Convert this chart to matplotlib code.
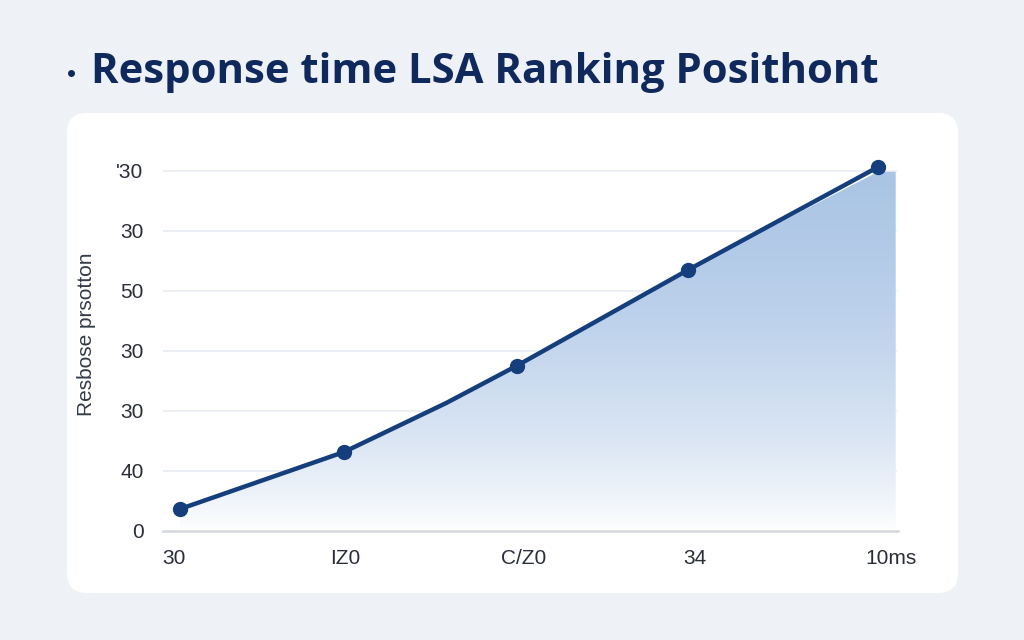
import numpy as np
import matplotlib
matplotlib.use("Agg")
from matplotlib import pyplot as plt
from matplotlib.patches import FancyBboxPatch, Polygon
from matplotlib.colors import LinearSegmentedColormap

# data
x_vals = [0.0, 0.965, 1.565, 1.98, 2.99, 4.105]
y_vals = [0.366, 1.316, 2.13, 2.75, 4.35, 6.06]
marker_idx = [0, 1, 3, 4, 5]          # the kink at index 2 has no marker
fill_right = 4.21
fill_top = 5.98

x_ticks = [-0.035, 0.97, 2.02, 3.03, 4.18]
x_labels = ["30", "IZ0", "C/Z0", "34", "10ms"]
y_ticks = [0, 1, 2, 3, 4, 5, 6]
y_labels = ["0", "40", "30", "30", "50", "30", "'30"]

title = "Response time LSA Ranking Posithont"
ylabel = "Resbose prsotton"

navy = "#153e7c"
bg_col = "#eef2f6"
text_col = "#2a2e38"

plt.rcParams['font.family'] = ['Liberation Sans', 'DejaVu Sans']

fig = plt.figure(figsize=(10.24, 6.4), dpi=100)
fig.patch.set_facecolor(bg_col)

# background layer in pixel coords for the card
bg = fig.add_axes([0, 0, 1, 1], zorder=0)
bg.set_xlim(0, 1024)
bg.set_ylim(640, 0)
bg.axis('off')
r = 20
card = FancyBboxPatch((67 + r, 113 + r), 958 - 67 - 2 * r, 593 - 113 - 2 * r,
                      boxstyle=f"round,pad={r}", fc="white", ec="none")
bg.add_patch(card)

# title: small bullet then bold text
bg.plot([71], [73], 'o', color="#10295c", ms=4)
bg.text(91, 83, title, fontsize=30.2, fontweight='bold', color="#10295c",
        family=['Open Sans', 'DejaVu Sans'], va='baseline', ha='left')

# main axes
L, R, B, T = 163, 898, 531, 158
ax = fig.add_axes([L / 1024, (640 - B) / 640, (R - L) / 1024, (B - T) / 640], zorder=1)
ax.patch.set_alpha(0)
px_per_x = 170.0
ax.set_xlim((L - 180) / px_per_x, (R - 180) / px_per_x)
ax.set_ylim(0, (B - T) / 60.05)

for s in ax.spines.values():
    s.set_visible(False)

for yv in y_ticks[1:]:
    ax.plot([ax.get_xlim()[0], fill_right], [yv, yv], color="#e8ebf0", lw=1.2, zorder=1)
ax.axhline(0, color="#d3d6dc", lw=1.8, zorder=6, clip_on=False)

# gradient fill under the line
poly_x = list(x_vals[:-1]) + [x_vals[-1], fill_right, fill_right, x_vals[0]]
poly_y = list(y_vals[:-1]) + [fill_top, fill_top, 0, 0]
poly = Polygon(np.column_stack([poly_x, poly_y]), closed=True, fc='none', ec='none')
ax.add_patch(poly)
cmap = LinearSegmentedColormap.from_list("fade", ["#ffffff", "#dbe6f4", "#bcd1eb", "#a9c4e4"])
grad = np.linspace(0, 1, 256).reshape(-1, 1) ** 0.8
im = ax.imshow(grad, cmap=cmap, aspect='auto', origin='lower',
               extent=[x_vals[0], fill_right, 0, fill_top], zorder=2)
im.set_clip_path(poly)

ax.plot(x_vals, y_vals, color=navy, lw=3.2, solid_capstyle='round',
        solid_joinstyle='round', zorder=4)
ax.plot([x_vals[i] for i in marker_idx], [y_vals[i] for i in marker_idx], 'o',
        color=navy, ms=10, zorder=5)

ax.set_xticks(x_ticks)
ax.set_xticklabels(x_labels)
ax.set_yticks(y_ticks)
ax.set_yticklabels(y_labels)
ax.tick_params(axis='both', length=0, labelsize=15, labelcolor=text_col)
ax.tick_params(axis='x', pad=13)
ax.tick_params(axis='y', pad=14)
ax.set_xlim((L - 180) / px_per_x, (R - 180) / px_per_x)

fig.text(87 / 1024, 1 - 334 / 640, ylabel, rotation=90, fontsize=15,
         color="#333a48", va='center', ha='center')

fig.savefig("out.png", dpi=100, facecolor=fig.get_facecolor())
